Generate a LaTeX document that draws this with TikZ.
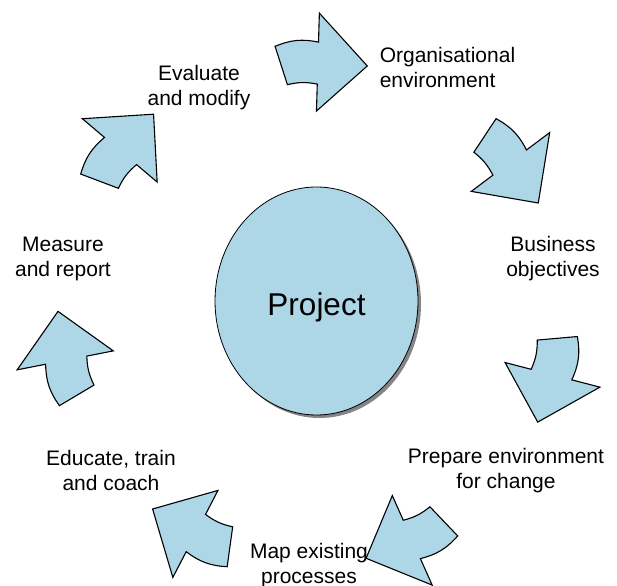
\documentclass[tikz,border=0pt]{standalone}
\usepackage{fontspec}
\setmainfont{Liberation Sans}
\usetikzlibrary{shapes.geometric, shadows}
\definecolor{cycleblue}{RGB}{173,214,231}

\begin{document}
\begin{tikzpicture}[x=1pt, y=1pt,
    cyclearrow/.style={draw=black, line width=1.1pt, fill=cycleblue, line join=miter},
    steplabel/.style={align=center, font=\fontsize{21}{25}\selectfont, inner sep=0pt},
    hub/.style={ellipse, draw=black, line width=0.8pt, fill=cycleblue,
                minimum width=203pt, minimum height=228pt, inner sep=0pt,
                font=\fontsize{31.5}{38}\selectfont, text height=29pt, text depth=0pt,
                drop shadow={shadow xshift=3pt, shadow yshift=-3pt, fill=black!80, opacity=0.6}}]

    \useasboundingbox (0,0) rectangle (617,585);

    % ring of curved step arrows, clockwise
    \coordinate (ring) at (310.5,273);
    \foreach \k [evaluate=\k as \a using 88.3-51.4286*\k] in {0,...,6} {
        \draw[cyclearrow, shift={(ring)}] ({\a+9.3}:268) to[bend left=17] (\a:270)
            -- (\a:299) -- ({\a-11.3}:252.5) -- (\a:201) -- (\a:228)
            to[bend right=12] ({\a+7.5}:228.5) -- cycle;
    }

    % centre
    \node[hub] (project) at (316.5,284) {Project};

    % step labels
    \node[steplabel, align=left] (orgenv) at (447.5,517.5) {Organisational\\environment};
    \node[steplabel] (busobj) at (553,326.5) {Business\\objectives};
    \node[steplabel] (prepenv) at (506,114) {Prepare environment\\for change};
    \node[steplabel] (mapproc) at (309,19.5) {Map existing\\processes};
    \node[steplabel] (educate) at (111,115) {Educate, train\\and coach};
    \node[steplabel] (measure) at (63,326.5) {Measure\\and report};
    \node[steplabel] (evaluate) at (199,497) {Evaluate\\and modify};
\end{tikzpicture}
\end{document}
